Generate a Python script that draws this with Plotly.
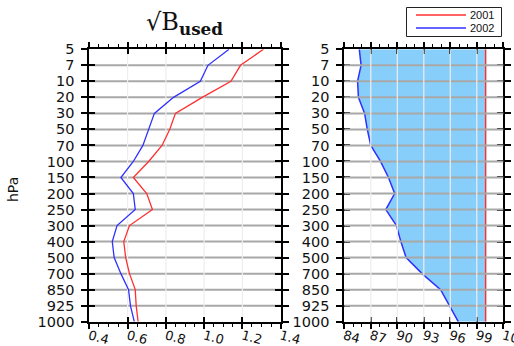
import plotly.graph_objects as go

levels = ["5", "7", "10", "20", "30", "50", "70", "100", "150", "200",
          "250", "300", "400", "500", "700", "850", "925", "1000"]

# sqrt(B_used) profiles
b2001 = [1.31, 1.19, 1.14, 0.99, 0.85, 0.82, 0.78, 0.71, 0.63, 0.70,
         0.73, 0.61, 0.58, 0.59, 0.61, 0.64, 0.645, 0.655]
b2002 = [1.13, 1.02, 0.98, 0.84, 0.74, 0.71, 0.68, 0.63, 0.565, 0.63,
         0.64, 0.545, 0.52, 0.53, 0.565, 0.605, 0.615, 0.635]
# relative (%) profiles
r2001 = [100, 100, 100, 100, 100, 100, 100, 100, 100, 100,
         100, 100, 100, 100, 100, 100, 100, 100]
r2002 = [85.7, 85.9, 85.5, 85.6, 86.3, 86.6, 87.0, 88.1, 89.0, 89.7,
         88.7, 89.9, 90.4, 91.0, 92.8, 94.9, 95.9, 96.9]

left_ticks = [0.4, 0.6, 0.8, 1.0, 1.2, 1.4]
right_ticks = [84, 87, 90, 93, 96, 99, 102]
series_names = ["2001", "2002"]

idx = list(range(len(levels)))
ymax = len(levels) - 1

RED = "#ff3030"
BLUE = "#3030ff"
FILL = "#87cefa"
FONT = "DejaVu Sans"

fig = go.Figure()

# left panel
fig.add_trace(go.Scatter(x=b2001, y=idx, mode="lines", name=series_names[0], showlegend=False,
                         line=dict(color=RED, width=1.3), xaxis="x", yaxis="y"))
fig.add_trace(go.Scatter(x=b2002, y=idx, mode="lines", name=series_names[1], showlegend=False,
                         line=dict(color=BLUE, width=1.3), xaxis="x", yaxis="y"))
# right panel
fig.add_trace(go.Scatter(x=r2001, y=idx, mode="lines", name=series_names[0], showlegend=False,
                         line=dict(color=RED, width=1.5), xaxis="x2", yaxis="y2"))
fig.add_trace(go.Scatter(x=r2002, y=idx, mode="lines", name=series_names[1], showlegend=False,
                         fill="tonextx", fillcolor=FILL,
                         line=dict(color=BLUE, width=1.5), xaxis="x2", yaxis="y2"))
# invisible helpers for inside-tick overlay axes
fig.add_trace(go.Scatter(x=b2002, y=idx, mode="lines", showlegend=False, hoverinfo="skip",
                         line=dict(width=0), opacity=0, xaxis="x3", yaxis="y3"))
fig.add_trace(go.Scatter(x=r2002, y=idx, mode="lines", showlegend=False, hoverinfo="skip",
                         line=dict(width=0), opacity=0, xaxis="x4", yaxis="y4"))

W, H = 514, 346
xd1 = [89.3 / W, 280.7 / W]
xd2 = [344.3 / W, 503.3 / W]
yd = [1 - 321.7 / H, 1 - 49.3 / H]

def xax(domain, rng, ticks, minor_dtick, anchor, fmt):
    return dict(domain=domain, range=[rng[0], rng[1]], tickvals=ticks,
                ticktext=[fmt(t) for t in ticks],
                ticks="outside", ticklen=5, tickwidth=1.5, tickcolor="black",
                mirror="allticks", showline=True, linewidth=2, linecolor="black",
                showgrid=False, zeroline=False, tickangle=15,
                tickfont=dict(family=FONT, size=13, color="#111"),
                ticklabelstandoff=-5, ticklabeloverflow="allow",
                minor=dict(dtick=minor_dtick, tick0=rng[0], ticks="outside", ticklen=3,
                           tickwidth=1, tickcolor="black", showgrid=False),
                anchor=anchor, fixedrange=True, automargin=False)

def yax(domain, anchor):
    return dict(domain=domain, range=[ymax, 0], tickvals=idx, ticktext=levels,
                ticks="outside", ticklen=6, tickwidth=1.5, tickcolor="black",
                mirror="allticks", showline=True, linewidth=2, linecolor="black",
                showgrid=False, zeroline=False,
                tickfont=dict(family=FONT, size=14.5, color="#111"),
                ticklabelstandoff=4, ticklabeloverflow="allow",
                anchor=anchor, fixedrange=True, automargin=False)

def inner_x(over, anchor, rng, ticks):
    return dict(overlaying=over, anchor=anchor, range=[rng[0], rng[1]], tickvals=ticks,
                ticks="inside", ticklen=5, tickwidth=1.5, tickcolor="black",
                mirror="allticks", showline=False, showticklabels=False,
                showgrid=False, zeroline=False, fixedrange=True, automargin=False)

def inner_y(over, anchor):
    return dict(overlaying=over, anchor=anchor, range=[ymax, 0], tickvals=idx,
                ticks="inside", ticklen=6, tickwidth=1.5, tickcolor="black",
                mirror="allticks", showline=False, showticklabels=False,
                showgrid=False, zeroline=False, fixedrange=True, automargin=False)

fig.update_layout(
    width=W, height=H,
    margin=dict(l=0, r=0, t=0, b=0),
    paper_bgcolor="white", plot_bgcolor="white",
    xaxis=xax(xd1, [0.4, 1.4], left_ticks, 0.05, "y", lambda t: f"{t:.1f}"),
    yaxis=yax(yd, "x"),
    xaxis2=xax(xd2, [84, 102], right_ticks, 1, "y2", lambda t: f"{t:d}"),
    yaxis2=yax(yd, "x2"),
    xaxis3=inner_x("x", "y3", [0.4, 1.4], left_ticks),
    yaxis3=inner_y("y", "x3"),
    xaxis4=inner_x("x2", "y4", [84, 102], right_ticks),
    yaxis4=inner_y("y2", "x4"),
    showlegend=False,
)

shapes = []
# grid lines (drawn over the fill in the right panel)
for xr, yr, ticks in (("x", "y", left_ticks), ("x2", "y2", right_ticks)):
    lay = "below" if xr == "x" else "above"
    for i in idx[1:-1]:
        shapes.append(dict(type="line", xref=f"{xr} domain", yref=yr, x0=0, x1=1,
                           y0=i, y1=i, line=dict(color="#a8a8a8", width=2), layer=lay))
    for t in ticks[1:-1]:
        shapes.append(dict(type="line", xref=xr, yref=f"{yr} domain", x0=t, x1=t,
                           y0=0, y1=1, line=dict(color="#eeeeee", width=1.2), layer=lay))

# legend box (NCL style)
shapes.append(dict(type="rect", xref="paper", yref="paper",
                   x0=406.5 / W, x1=501.5 / W, y0=1 - 36.5 / H, y1=1 - 7.5 / H,
                   line=dict(color="#222", width=1), fillcolor="white", layer="above"))
for k, (name, col) in enumerate(zip(series_names, [RED, BLUE])):
    yy = 1 - (15 + 13 * k) / H
    shapes.append(dict(type="line", xref="paper", yref="paper",
                       x0=416 / W, x1=466 / W, y0=yy, y1=yy,
                       line=dict(color=col, width=1.3), layer="above"))
    fig.add_annotation(x=468 / W, y=yy, xref="paper", yref="paper", text=name,
                       showarrow=False, xanchor="left", yanchor="middle",
                       font=dict(family="Liberation Sans", size=11, color="#111"))
fig.update_layout(shapes=shapes)

fig.add_annotation(x=(xd1[0] + xd1[1]) / 2, y=1 - 24 / H, xref="paper", yref="paper",
                   text="√B<sub><b>used</b></sub>", showarrow=False,
                   font=dict(family="DejaVu Serif", size=24, color="#111"),
                   xanchor="center", yanchor="middle")
fig.add_annotation(x=13 / W, y=1 - 190 / H, xref="paper", yref="paper",
                   text="hPa", textangle=-90, showarrow=False,
                   font=dict(family=FONT, size=14, color="#111"),
                   xanchor="center", yanchor="middle")

fig.write_html("out.html")
